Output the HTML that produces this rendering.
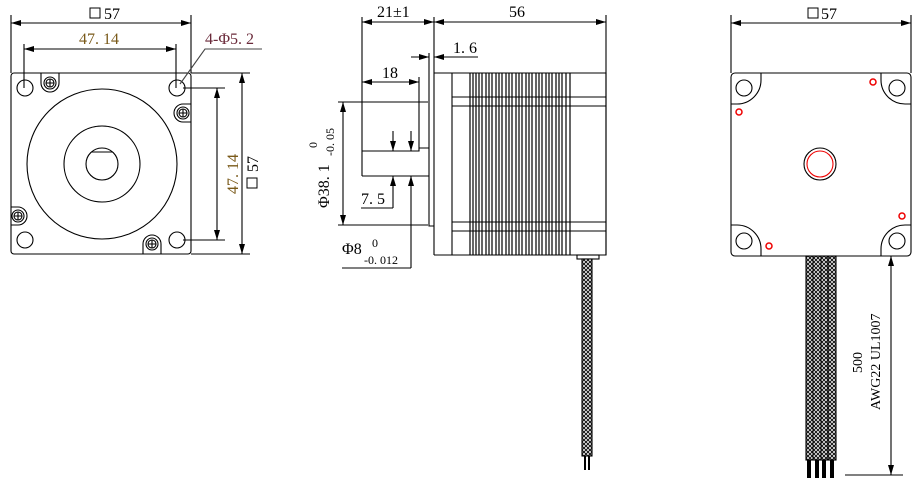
<!DOCTYPE html>
<html><head><style>body{margin:0;background:#fff}svg{display:block}</style></head><body>
<svg width="921" height="481" viewBox="0 0 921 481" xmlns="http://www.w3.org/2000/svg" font-family="Liberation Serif, serif">
<defs>
<marker id="a" viewBox="0 0 10 6" refX="10" refY="3" markerWidth="10" markerHeight="6" orient="auto-start-reverse" markerUnits="userSpaceOnUse"><path d="M0,0L10,3L0,6z" fill="#000"/></marker>
<pattern id="h" width="4" height="4" patternUnits="userSpaceOnUse"><rect width="4" height="4" fill="#fff"/><path d="M0,0L4,4M4,0L0,4" stroke="#111" stroke-width="1"/></pattern>
</defs>
<g stroke="#000" fill="none" stroke-width="1.1">
<!-- LEFT VIEW -->
<rect x="11" y="73" width="180" height="181" rx="3"/>
<circle cx="25" cy="88" r="8"/><circle cx="177" cy="88" r="8"/><circle cx="25" cy="240" r="8"/><circle cx="177" cy="240" r="8"/>
<circle cx="102" cy="164" r="75"/><circle cx="102" cy="164" r="38"/><circle cx="102" cy="164" r="16"/>
<line x1="91" y1="152" x2="113" y2="152"/>
<g><circle cx="50" cy="83" r="6"/><circle cx="50" cy="83" r="4"/><path d="M46,83h8M50,79v8"/><path d="M41,73v10a9,9 0 0 0 18,0v-10"/></g>
<g><circle cx="183" cy="113" r="6"/><circle cx="183" cy="113" r="4"/><path d="M179,113h8M183,109v8"/><path d="M191,104h-8a9,9 0 0 0 0,18h8"/></g>
<g><circle cx="18" cy="216" r="6"/><circle cx="18" cy="216" r="4"/><path d="M14,216h8M18,212v8"/><path d="M11,207h7a9,9 0 0 1 0,18h-7"/></g>
<g><circle cx="152" cy="244" r="6"/><circle cx="152" cy="244" r="4"/><path d="M148,244h8M152,240v8"/><path d="M143,254v-10a9,9 0 0 1 18,0v10"/></g>
<path d="M11,15V73M191,15V73M24,44V88M176,44V88"/>
<line x1="11" y1="23" x2="191" y2="23" marker-start="url(#a)" marker-end="url(#a)"/>
<line x1="24" y1="49" x2="176" y2="49" marker-start="url(#a)" marker-end="url(#a)"/>
<path d="M262,49H205L180,84" stroke="#444"/>
<path d="M183,88H225M183,240H225M191,73H250M191,254H250"/>
<line x1="217" y1="88" x2="217" y2="240" marker-start="url(#a)" marker-end="url(#a)"/>
<line x1="242" y1="73" x2="242" y2="254" marker-start="url(#a)" marker-end="url(#a)"/>
<!-- MIDDLE VIEW -->
<path d="M362,17V176M434,17V255M606,15V255"/>
<line x1="362" y1="22" x2="434" y2="22" marker-start="url(#a)" marker-end="url(#a)"/>
<line x1="434" y1="22" x2="606" y2="22" marker-start="url(#a)" marker-end="url(#a)"/>
<path d="M429,53V226H434"/>
<line x1="411" y1="57" x2="429" y2="57" marker-end="url(#a)"/>
<line x1="478" y1="57" x2="434" y2="57" marker-end="url(#a)"/>
<path d="M434,73H606V255H434M452,73V255M452,97H606M452,106H606M452,222H606M452,231H606"/>
<path stroke-width="1.2" d="M470,73V255M473,73V255M476,73V255M479,73V255M482,73V255M486,73V255M489,73V255M492,73V255M496,73V255M499,73V255M502,73V255M506,73V255M509,73V255M512,73V255M516,73V255M519,73V255M522,73V255M526,73V255M529,73V255M532,73V255M536,73V255M539,73V255M542,73V255M546,73V255M549,73V255M552,73V255M556,73V255M559,73V255M562,73V255M566,73V255M570,73V255"/>
<line x1="362" y1="82" x2="419" y2="82" marker-start="url(#a)" marker-end="url(#a)"/>
<path d="M419,77V151H362M419,148H429M362,176H429"/>
<path d="M338,102H428M338,225H428"/>
<line x1="343" y1="102" x2="343" y2="225" marker-start="url(#a)" marker-end="url(#a)"/>
<line x1="393" y1="131" x2="393" y2="151" marker-end="url(#a)"/>
<line x1="393" y1="208" x2="393" y2="176" marker-end="url(#a)"/>
<line x1="411" y1="131" x2="411" y2="151" marker-end="url(#a)"/>
<line x1="411" y1="268" x2="411" y2="176" marker-end="url(#a)"/>
<path d="M361,208H393M342,268H411"/>
<rect x="577" y="255" width="22" height="4"/>
<rect x="582" y="259" width="10" height="197" fill="url(#h)"/>
<path d="M585,456V470M589,456V470" stroke-width="2"/>
<!-- RIGHT VIEW -->
<path d="M731,15V73M911,15V73"/>
<line x1="731" y1="23" x2="911" y2="23" marker-start="url(#a)" marker-end="url(#a)"/>
<rect x="731" y="73" width="180" height="183" rx="4"/>
<circle cx="744" cy="88" r="8"/><circle cx="897" cy="88" r="8"/><circle cx="744" cy="241" r="8"/><circle cx="897" cy="241" r="8"/>
<path d="M761,73V80a24,24 0 0 1 -24,24H731"/>
<path d="M881,73V80a24,24 0 0 0 24,24H911"/>
<path d="M761,256V249a24,24 0 0 0 -24,-24H731"/>
<path d="M881,256V249a24,24 0 0 1 24,-24H911"/>
<circle cx="820" cy="164" r="16"/><circle cx="820" cy="164" r="13" stroke="#e00"/>
<g stroke="#e00" stroke-width="1.5"><circle cx="873" cy="82" r="3"/><circle cx="739" cy="112" r="3"/><circle cx="902" cy="216" r="3"/><circle cx="769" cy="246" r="3"/></g>
<rect x="806" y="256" width="30" height="204" fill="url(#h)"/>
<path d="M813,256V460M821,256V460M828,256V460"/>
<path d="M809,460V478M817,460V478M824,460V478M832,460V478" stroke-width="4"/>
<path d="M845,475H903"/>
<line x1="891" y1="256" x2="891" y2="475" marker-start="url(#a)" marker-end="url(#a)"/>
</g>
<g font-size="16" fill="#000">
<rect x="90" y="8" width="10" height="10" fill="none" stroke="#000"/><text x="104" y="19">57</text>
<text x="79" y="44" fill="#7a5a1a">47. 14</text>
<text x="205" y="44" fill="#6a2a3a">4-Φ5. 2</text>
<text transform="translate(238,194) rotate(-90)" fill="#7a5a1a">47. 14</text>
<g transform="translate(258,172) rotate(-90)"><text x="0" y="0">57</text><rect x="-16" y="-11" width="10" height="10" fill="none" stroke="#000"/></g>
<text x="377" y="17">21±1</text>
<text x="509" y="17">56</text>
<text x="453" y="53">1. 6</text>
<text x="382" y="78">18</text>
<text x="361" y="204">7. 5</text>
<text x="342" y="254">Φ8</text>
<text x="372" y="247" font-size="12">0</text>
<text x="364" y="264" font-size="12">-0. 012</text>
<g transform="translate(329,208) rotate(-90)"><text x="0" y="0">Φ38. 1</text><text x="60" y="-12" font-size="12">0</text><text x="52" y="5" font-size="12">-0. 05</text></g>
<rect x="808" y="8" width="10" height="10" fill="none" stroke="#000"/><text x="821" y="19">57</text>
<text transform="translate(862,373) rotate(-90)" font-size="14">500</text>
<text transform="translate(880,410) rotate(-90)" font-size="14">AWG22 UL1007</text>
</g>
</svg>
</body></html>
